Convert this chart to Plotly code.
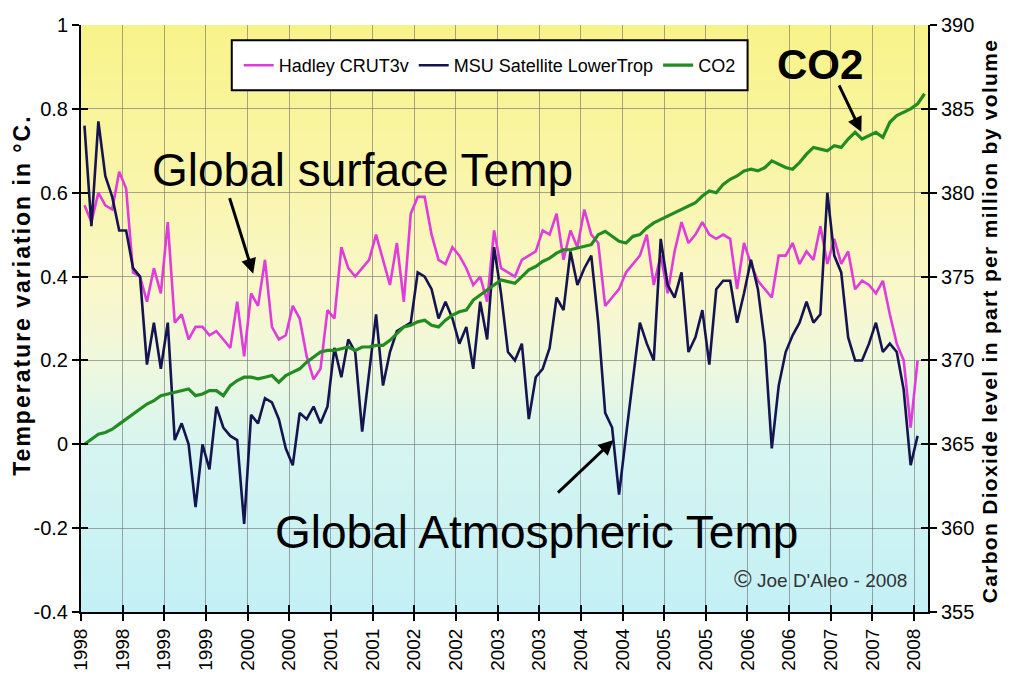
import base64
import numpy as np
import plotly.graph_objects as go

# ---------------- data (monthly, Jan 1998 onward) ----------------
msu = [0.76, 0.52, 0.77, 0.64, 0.59, 0.51, 0.51, 0.42, 0.40, 0.19,
       0.29, 0.18, 0.29, 0.01, 0.05, 0.00, -0.15, 0.00, -0.06, 0.09,
       0.04, 0.02, 0.01, -0.19, 0.07, 0.05, 0.11, 0.10, 0.06, -0.01,
       -0.05, 0.075, 0.06, 0.09, 0.05, 0.09, 0.23, 0.16, 0.25, 0.22,
       0.03, 0.17, 0.31, 0.14, 0.22, 0.27, 0.28, 0.29, 0.41, 0.40,
       0.37, 0.30, 0.34, 0.30, 0.24, 0.28, 0.18, 0.34, 0.25, 0.47,
       0.36, 0.22, 0.20, 0.24, 0.06, 0.16, 0.18, 0.23, 0.35, 0.32,
       0.46, 0.38, 0.42, 0.45, 0.29, 0.075, 0.04, -0.12, 0.02, 0.15,
       0.29, 0.24, 0.20, 0.49, 0.38, 0.35, 0.41, 0.22, 0.255, 0.32,
       0.19, 0.37, 0.39, 0.39, 0.29, 0.36, 0.44, 0.37, 0.24, -0.01,
       0.14, 0.22, 0.26, 0.29, 0.34, 0.29, 0.31, 0.60, 0.45, 0.41,
       0.255, 0.20, 0.20, 0.24, 0.29, 0.22, 0.24, 0.22, 0.13, -0.05,
       0.02]

hadley = [0.57, 0.53, 0.60, 0.57, 0.56, 0.65, 0.61, 0.41, 0.40, 0.34,
          0.42, 0.36, 0.53, 0.29, 0.31, 0.25, 0.28, 0.28, 0.26, 0.27,
          0.25, 0.23, 0.34, 0.21, 0.36, 0.33, 0.44, 0.28, 0.25, 0.26,
          0.33, 0.30, 0.21, 0.155, 0.18, 0.32, 0.30, 0.47, 0.42, 0.40,
          0.42, 0.44, 0.50, 0.44, 0.38, 0.48, 0.34, 0.55, 0.59, 0.59,
          0.50, 0.44, 0.43, 0.47, 0.45, 0.42, 0.38, 0.40, 0.34, 0.51,
          0.42, 0.41, 0.40, 0.44, 0.45, 0.46, 0.51, 0.50, 0.55, 0.44,
          0.51, 0.47, 0.56, 0.50, 0.48, 0.33, 0.35, 0.37, 0.41, 0.43,
          0.45, 0.50, 0.38, 0.45, 0.36, 0.46, 0.53, 0.48, 0.50, 0.53,
          0.50, 0.49, 0.50, 0.49, 0.37, 0.48, 0.43, 0.39, 0.37, 0.35,
          0.45, 0.45, 0.48, 0.43, 0.46, 0.44, 0.52, 0.43, 0.49, 0.43,
          0.46, 0.37, 0.39, 0.38, 0.36, 0.39, 0.31, 0.24, 0.20, 0.04,
          0.20]

co2 = [365.0, 365.3, 365.6, 365.7, 365.9, 366.2, 366.5, 366.8, 367.1, 367.4,
       367.6, 367.9, 368.0, 368.1, 368.2, 368.3, 367.9, 368.0, 368.2, 368.2,
       367.9, 368.5, 368.8, 369.0, 369.0, 368.9, 369.0, 369.1, 368.7, 369.1,
       369.3, 369.5, 369.9, 370.2, 370.5, 370.6, 370.6, 370.7, 370.8, 370.6,
       370.8, 370.8, 370.9, 370.9, 371.2, 371.6, 372.0, 372.1, 372.3, 372.4,
       372.1, 372.0, 372.4, 372.7, 372.9, 373.0, 373.6, 373.9, 374.2, 374.5,
       374.8, 374.7, 374.6, 375.0, 375.4, 375.6, 375.9, 376.1, 376.4, 376.6,
       376.6, 376.7, 376.8, 376.9, 377.5, 377.7, 377.4, 377.1, 377.0, 377.4,
       377.5, 377.9, 378.2, 378.4, 378.6, 378.8, 379.0, 379.2, 379.4, 379.8,
       380.1, 380.0, 380.5, 380.8, 381.0, 381.3, 381.4, 381.3, 381.5, 381.9,
       381.7, 381.5, 381.4, 381.8, 382.3, 382.7, 382.6, 382.5, 382.8, 382.7,
       383.2, 383.6, 383.2, 383.4, 383.6, 383.3, 384.2, 384.6, 384.8, 385.0,
       385.3, 385.9]

x_tick_labels = ["1998", "1998", "1999", "1999", "2000", "2000", "2001", "2001",
                 "2002", "2002", "2003", "2003", "2004", "2004", "2005", "2005",
                 "2006", "2006", "2007", "2007", "2008"]
y_tick_vals = [-0.4, -0.2, 0, 0.2, 0.4, 0.6, 0.8, 1]
y_tick_text = ["-0.4", "-0.2", "0", "0.2", "0.4", "0.6", "0.8", "1"]
y2_tick_vals = [355, 360, 365, 370, 375, 380, 385, 390]

# month index of each sample
xt = np.arange(len(msu))
xc = np.arange(len(co2))
x_tick_vals = [-0.5 + 6 * k for k in range(len(x_tick_labels))]
X_RANGE = [-0.5, 121.5]
Y_RANGE = [-0.4, 1]
Y2_RANGE = [355, 390]

FONT = "Arial, Liberation Sans, sans-serif"
GRID = "rgba(110,110,110,0.6)"

fig = go.Figure()
fig.add_trace(go.Scatter(x=xt, y=hadley, mode="lines", name="Hadley CRUT3v",
                         line=dict(color="#E03CDC", width=2.6)))
fig.add_trace(go.Scatter(x=xt, y=msu, mode="lines", name="MSU Satellite LowerTrop",
                         line=dict(color="#141450", width=2.6)))
fig.add_trace(go.Scatter(x=xc, y=co2, mode="lines", name="CO2", yaxis="y2",
                         line=dict(color="#228B22", width=3.2)))

# gradient background for plot area
svg = ("<svg xmlns='http://www.w3.org/2000/svg' width='100' height='100' preserveAspectRatio='none'>"
       "<defs><linearGradient id='g' x1='0' y1='0' x2='0' y2='1'>"
       "<stop offset='0' stop-color='#F8F388'/>"
       "<stop offset='0.25' stop-color='#F9F5A8'/>"
       "<stop offset='0.45' stop-color='#FAF7CA'/>"
       "<stop offset='0.58' stop-color='#EEF8DE'/>"
       "<stop offset='0.72' stop-color='#D6F5F1'/>"
       "<stop offset='1' stop-color='#C3F0F6'/>"
       "</linearGradient></defs><rect x='0' y='0' width='100' height='100' fill='url(#g)'/></svg>")
src = "data:image/svg+xml;base64," + base64.b64encode(svg.encode()).decode()

tick_common = dict(tickcolor="black", tickwidth=2, ticklen=7, zeroline=False, automargin=False)

fig.update_layout(
    width=1003, height=692,
    margin=dict(l=73, r=83, t=17, b=88, autoexpand=False),
    paper_bgcolor="white", plot_bgcolor="rgba(0,0,0,0)",
    font=dict(family=FONT, color="black"),
    images=[dict(source=src, xref="paper", yref="paper", x=0, y=1, sizex=1, sizey=1,
                 sizing="stretch", layer="below", xanchor="left", yanchor="top")],
    xaxis=dict(range=X_RANGE, tickmode="array", tickvals=x_tick_vals, ticktext=x_tick_labels,
               tickangle=-90, tickfont=dict(size=19), showgrid=True, gridcolor=GRID,
               gridwidth=1, showline=True, linecolor="black", linewidth=2, ticks="outside",
               **tick_common),
    # inner half of the crossing tick marks
    xaxis2=dict(range=X_RANGE, overlaying="x", anchor="y", side="bottom", tickmode="array",
                tickvals=x_tick_vals, showticklabels=False, showgrid=False, showline=False,
                ticks="inside", **tick_common),
    yaxis=dict(range=Y_RANGE, tickmode="array", tickvals=y_tick_vals, ticktext=y_tick_text,
               tickfont=dict(size=20), showgrid=True, gridcolor=GRID, gridwidth=1,
               showline=True, linecolor="black", linewidth=2, ticks="outside", **tick_common),
    yaxis3=dict(range=Y_RANGE, overlaying="y", anchor="x", side="left", tickmode="array",
                tickvals=y_tick_vals, showticklabels=False, showgrid=False, showline=False,
                ticks="inside", **tick_common),
    yaxis2=dict(range=Y2_RANGE, overlaying="y", side="right", anchor="x", tickmode="array",
                tickvals=y2_tick_vals, tickfont=dict(size=20), showgrid=False, showline=True,
                linecolor="black", linewidth=2, ticks="outside", **tick_common),
    yaxis4=dict(range=Y2_RANGE, overlaying="y", side="right", anchor="x", tickmode="array",
                tickvals=y2_tick_vals, showticklabels=False, showgrid=False, showline=False,
                ticks="inside", **tick_common),
    legend=dict(orientation="h", x=0.4825, y=0.931, xanchor="center", yanchor="middle",
                bgcolor="rgba(0,0,0,0)", borderwidth=0, font=dict(size=18),
                itemwidth=30, tracegroupgap=0),
    showlegend=True,
    shapes=[dict(type="rect", xref="paper", yref="paper", x0=0.178, x1=0.787, y0=0.889, y1=0.974,
                 fillcolor="white", line=dict(color="black", width=2), layer="above")],
)

# invisible helper traces so the tick-only overlay axes are drawn
fig.add_trace(go.Scatter(x=[None], y=[None], xaxis="x2", yaxis="y3", showlegend=False, hoverinfo="skip"))
fig.add_trace(go.Scatter(x=[None], y=[None], xaxis="x", yaxis="y4", showlegend=False, hoverinfo="skip"))

# axis titles
fig.add_annotation(x=-0.07, y=0.54, xref="paper", yref="paper", textangle=-90,
                   xanchor="center", yanchor="middle",
                   text="<b><span style='letter-spacing:2px'>Temperature variation in °C.</span></b>",
                   showarrow=False, font=dict(family=FONT, size=23, color="black"))
fig.add_annotation(x=1.073, y=0.495, xref="paper", yref="paper", textangle=-90,
                   xanchor="center", yanchor="middle",
                   text="<b><span style='letter-spacing:1.3px'>Carbon Dioxide level in part per million by volume</span></b>",
                   showarrow=False, font=dict(family=FONT, size=21, color="black"))

ann = [
    dict(x=40.1, y=0.655, text="Global surface Temp", size=46),
    dict(x=65.1, y=-0.21, text="Global Atmospheric Temp", size=46),
    dict(x=106, y=0.905, text="<b>CO2</b>", size=42),
]
for a in ann:
    fig.add_annotation(x=a["x"], y=a["y"], xref="x", yref="y", text=a["text"], showarrow=False,
                       font=dict(family=FONT, color="black", size=a["size"]),
                       xanchor="center", yanchor="middle")

arrows = [
    (24.3, 0.407, -24, -77),
    (76.2, 0.01, -57, 54),
    (111.9, 0.745, -23, -48),
]
for hx, hy, ax, ay in arrows:
    fig.add_annotation(x=hx, y=hy, xref="x", yref="y", text="", showarrow=True, ax=ax, ay=ay,
                       arrowhead=2, arrowsize=1, arrowwidth=3, arrowcolor="black")

fig.add_annotation(x=118.7, y=-0.319, xref="x", yref="y", xanchor="right", yanchor="middle",
                   text="<span style='font-size:24px'>©</span> Joe D'Aleo - 2008", showarrow=False,
                   font=dict(family=FONT, size=19, color="#333333"))

fig.write_html("out.html")
